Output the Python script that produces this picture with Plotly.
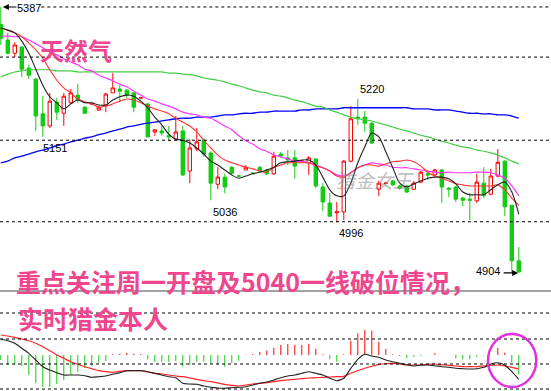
import plotly.graph_objects as go

# ---------------- data ----------------
idx = list(range(75))

opens = [5355, 5327, 5303, 5314, 5276, 5256, 5193, 5171, 5214, 5194,
         5213, 5227, 5205, 5211, 5200, 5209, 5231, 5238, 5236, 5231,
         5222, 5211, 5160, 5162, 5154, 5147, 5162, 5089, 5129, 5145,
         5122, 5065, 5078, 5096, 5080, 5091, 5085, 5096, 5091, 5084,
         5120, 5113, 5113, 5107, 5104, 5111, 5060, 5031, 5013, 5015,
         5107, 5187, 5187, 5176, 5056, 5067, 5071, 5062, 5062, 5056,
         5069, 5084, 5082, 5091, 5058, 5060, 5040, 5038, 5035, 5067,
         5047, 5080, 5107, 5027, 4926]
highs = [5387, 5340, 5323, 5316, 5282, 5258, 5225, 5231, 5222, 5231,
         5238, 5247, 5207, 5213, 5207, 5231, 5267, 5245, 5238, 5232,
         5224, 5213, 5164, 5171, 5171, 5189, 5171, 5147, 5167, 5149,
         5125, 5096, 5084, 5098, 5082, 5100, 5087, 5098, 5093, 5124,
         5124, 5127, 5127, 5109, 5116, 5113, 5067, 5049, 5033, 5109,
         5207, 5220, 5198, 5178, 5071, 5069, 5073, 5064, 5064, 5071,
         5089, 5091, 5093, 5093, 5060, 5062, 5042, 5049, 5084, 5096,
         5093, 5129, 5109, 5027, 4951]
lows = [5318, 5301, 5296, 5260, 5256, 5162, 5151, 5167, 5182, 5171,
        5211, 5213, 5193, 5209, 5198, 5196, 5231, 5214, 5222, 5196,
        5220, 5151, 5153, 5153, 5143, 5145, 5080, 5067, 5125, 5115,
        5036, 5056, 5049, 5084, 5078, 5091, 5083, 5087, 5082, 5082,
        5113, 5100, 5075, 5105, 5082, 5058, 5016, 5007, 4996, 5000,
        5105, 5173, 5160, 5138, 5044, 5065, 5062, 5055, 5049, 5055,
        5067, 5073, 5080, 5031, 5042, 5033, 5025, 5000, 5031, 5040,
        5045, 5078, 5007, 4906, 4904]
closes = [5330, 5303, 5318, 5274, 5263, 5189, 5171, 5216, 5196, 5225,
          5231, 5218, 5194, 5211, 5205, 5229, 5240, 5234, 5227, 5205,
          5222, 5151, 5164, 5158, 5151, 5160, 5082, 5131, 5142, 5120,
          5067, 5078, 5060, 5085, 5080, 5096, 5085, 5089, 5084, 5116,
          5116, 5109, 5098, 5107, 5113, 5062, 5033, 5007, 5015, 5107,
          5184, 5184, 5176, 5140, 5067, 5067, 5064, 5058, 5051, 5067,
          5087, 5082, 5091, 5060, 5056, 5038, 5036, 5036, 5069, 5045,
          5080, 5105, 5024, 4926, 4906]

ma5 = [5349, 5345, 5340, 5325, 5303, 5274, 5245, 5224, 5213, 5202,
       5211, 5218, 5213, 5213, 5209, 5209, 5218, 5224, 5227, 5225,
       5216, 5204, 5187, 5173, 5156, 5147, 5145, 5140, 5131, 5120,
       5107, 5100, 5091, 5082, 5076, 5080, 5084, 5087, 5091, 5096,
       5104, 5106, 5107, 5109, 5109, 5100, 5078, 5055, 5044, 5044,
       5067, 5104, 5133, 5158, 5151, 5124, 5095, 5067, 5060, 5066,
       5071, 5076, 5078, 5078, 5075, 5066, 5051, 5046, 5046, 5046,
       5055, 5064, 5069, 5051, 5011]
ma10 = [5349, 5345, 5340, 5333, 5322, 5309, 5294, 5273, 5254, 5240,
        5231, 5220, 5215, 5211, 5205, 5207, 5211, 5216, 5220, 5218,
        5213, 5207, 5202, 5198, 5193, 5185, 5178, 5171, 5160, 5145,
        5131, 5118, 5109, 5104, 5100, 5096, 5093, 5089, 5087, 5095,
        5100, 5104, 5104, 5104, 5104, 5098, 5095, 5089, 5080, 5078,
        5086, 5095, 5100, 5100, 5098, 5102, 5106, 5107, 5109, 5106,
        5098, 5087, 5080, 5076, 5071, 5066, 5064, 5062, 5062, 5062,
        5062, 5064, 5055, 5040, 5027]
ma20 = [5334, 5334, 5333, 5333, 5327, 5320, 5313, 5305, 5300, 5293,
        5287, 5282, 5274, 5271, 5263, 5258, 5253, 5247, 5242, 5234,
        5227, 5220, 5216, 5211, 5207, 5202, 5196, 5193, 5191, 5187,
        5185, 5178, 5171, 5164, 5153, 5144, 5138, 5129, 5125, 5118,
        5115, 5111, 5107, 5106, 5104, 5100, 5095, 5089, 5082, 5080,
        5086, 5095, 5100, 5104, 5102, 5100, 5096, 5095, 5095, 5093,
        5091, 5089, 5087, 5086, 5087, 5086, 5086, 5086, 5087, 5087,
        5086, 5082, 5076, 5062, 5044]
ma60 = [5260, 5265, 5269, 5271, 5273, 5273, 5273, 5273, 5271, 5271,
        5271, 5269, 5269, 5269, 5269, 5269, 5269, 5269, 5269, 5269,
        5269, 5269, 5269, 5269, 5267, 5267, 5265, 5264, 5262, 5258,
        5256, 5254, 5251, 5247, 5244, 5240, 5236, 5233, 5231, 5227,
        5225, 5222, 5218, 5215, 5211, 5207, 5205, 5200, 5196, 5191,
        5187, 5184, 5182, 5180, 5176, 5173, 5169, 5165, 5162, 5158,
        5154, 5151, 5147, 5143, 5140, 5136, 5133, 5131, 5127, 5125,
        5122, 5118, 5113, 5107, 5102]
ma120 = [5104, 5107, 5113, 5116, 5120, 5124, 5127, 5131, 5135, 5138,
         5142, 5145, 5149, 5151, 5155, 5158, 5162, 5165, 5169, 5171,
         5174, 5176, 5178, 5180, 5182, 5184, 5185, 5185, 5187, 5187,
         5187, 5189, 5191, 5191, 5193, 5194, 5194, 5196, 5196, 5198,
         5198, 5198, 5198, 5200, 5200, 5202, 5202, 5202, 5202, 5204,
         5204, 5204, 5204, 5204, 5204, 5204, 5204, 5204, 5204, 5202,
         5202, 5202, 5200, 5200, 5200, 5198, 5196, 5194, 5194, 5193,
         5193, 5191, 5191, 5189, 5185]

macd_hist = [-5, -10, -10, -11, -20, -28, -32, -32, -29, -25,
             -20, -17, -13, -11, -8, -6, 0.7, 1.3, 2, 1.3,
             1, -4.3, -6.7, -6.7, -6.7, -6, -11.7, -10, -6.7, -6.7,
             -8.3, -10, -11.7, -8.3, -5.7, 0.3, 1, 3, 4.3, 7.3,
             10, 11, 10, 10, 11, 6.3, 0.7, -4.3, -6.7, 0.7,
             14.3, 21.7, 25, 24.3, 13, 6, 0.7, -1, -3.3, -1.7,
             -1, 0, 1.7, 0, 0, -3.3, -4.3, -4.3, -1.7, -0.5,
             0, 7.3, 2.3, -7.7, -19.3]
dif = [15.7, 14.3, 11.7, 6.7, 1.7, -5.0, -11.7, -15.0, -17.7, -20.0,
       -20.0, -20.0, -20.7, -22.3, -21.7, -21.0, -19.3, -17.7, -15.7, -15.7,
       -15.7, -16.7, -18.3, -20.0, -21.7, -22.7, -28.3, -29.0, -29.3, -31.0,
       -32.3, -33.0, -33.3, -32.7, -32.3, -31.7, -30.0, -28.3, -27.0, -25.0,
       -22.7, -21.0, -20.0, -18.3, -16.7, -18.3, -20.0, -23.3, -25.7, -23.3,
       -13.3, -4.3, 0.7, -1.0, -2.3, -5.0, -6.7, -8.3, -9.7, -11.0,
       -10.3, -10.0, -10.7, -11.7, -12.3, -13.3, -13.7, -14.0, -13.7, -12.3,
       -9.0, -7.7, -10.0, -16.7, -24.3]
dea = [20.0, 19.0, 17.7, 16.0, 14.3, 11.7, 8.3, 4.3, 0.0, -3.3,
       -6.7, -9.3, -11.7, -13.7, -15.7, -16.7, -17.3, -16.3, -15.7, -15.7,
       -15.7, -17.0, -18.3, -19.0, -20.0, -21.0, -21.7, -23.0, -24.3, -25.7,
       -26.7, -28.0, -29.3, -30.3, -31.0, -30.0, -29.0, -28.3, -27.7, -26.7,
       -25.7, -25.0, -24.3, -23.7, -23.0, -22.7, -22.3, -22.0, -21.7, -21.3,
       -18.3, -15.7, -13.3, -11.3, -9.3, -8.7, -8.3, -9.0, -10.0, -10.0,
       -10.0, -9.3, -9.0, -9.7, -10.3, -11.0, -11.7, -11.7, -11.7, -11.0,
       -10.3, -10.0, -11.0, -12.3, -14.0]

price_labels = ["5387", "5151", "5036", "4996", "5220", "4904"]
price_label_x = [4.0, 7.8, 32.0, 50.0, 53.0, 69.6]
price_label_y = [5387, 5151, 5036, 4996, 5220, 4904]

# ---------------- figure ----------------
fig = go.Figure()

fig.add_trace(go.Candlestick(
    x=idx, open=opens, high=highs, low=lows, close=closes,
    increasing=dict(line=dict(color="#FF0000", width=1), fillcolor="#FFFFFF"),
    decreasing=dict(line=dict(color="#11CC11", width=1), fillcolor="#11CC11"),
    whiskerwidth=0, xaxis="x", yaxis="y", showlegend=False, hoverinfo="skip"))

for vals, col, w in [(ma120, "#0000FF", 1.3), (ma60, "#44CC44", 1.2),
                     (ma20, "#FF33FF", 1.2), (ma10, "#FF3333", 1.1),
                     (ma5, "#222222", 1.1)]:
    fig.add_trace(go.Scatter(x=idx, y=vals, mode="lines",
                             line=dict(color=col, width=w, shape="spline", smoothing=0.8),
                             xaxis="x", yaxis="y", showlegend=False, hoverinfo="skip"))

# MACD histogram as thin vertical strokes
for positive, col in [(True, "#FF0000"), (False, "#11CC11")]:
    hx, hy = [], []
    for i, v in zip(idx, macd_hist):
        if (v > 0) == positive and v != 0:
            hx += [i, i, None]
            hy += [0, v, None]
    fig.add_trace(go.Scatter(x=hx, y=hy, mode="lines", line=dict(color=col, width=1),
                             xaxis="x2", yaxis="y2", showlegend=False, hoverinfo="skip"))
fig.add_trace(go.Scatter(x=idx, y=dea, mode="lines",
                         line=dict(color="#FF2222", width=1.2, shape="spline", smoothing=0.6),
                         xaxis="x2", yaxis="y2", showlegend=False, hoverinfo="skip"))
fig.add_trace(go.Scatter(x=idx, y=dif, mode="lines",
                         line=dict(color="#222222", width=1.1, shape="spline", smoothing=0.6),
                         xaxis="x2", yaxis="y2", showlegend=False, hoverinfo="skip"))

split = 100 / 391.0
xr = [-0.114, 78.6]
fig.update_layout(
    width=551, height=391, margin=dict(l=0, r=0, t=0, b=0),
    paper_bgcolor="white", plot_bgcolor="white",
    xaxis=dict(domain=[0, 1], range=xr, visible=False, rangeslider=dict(visible=False), anchor="y"),
    yaxis=dict(domain=[split, 1], range=[4871.2, 5399.7], visible=False, anchor="x"),
    xaxis2=dict(domain=[0, 1], range=xr, visible=False, anchor="y2"),
    yaxis2=dict(domain=[0, split], range=[-36, 64], visible=False, anchor="x2"),
)

shapes = []
shapes.append(dict(type="line", xref="paper", yref="y", x0=0.075, x1=1, y0=5387, y1=5387,
                   line=dict(color="#000000", width=1, dash="dot")))
for g in [5296, 5145, 4997]:
    shapes.append(dict(type="line", xref="paper", yref="y", x0=0, x1=1, y0=g, y1=g,
                       line=dict(color="#000000", width=1, dash="dot")))
for g in [42, 16, -9, -34]:
    shapes.append(dict(type="line", xref="paper", yref="y2", x0=0, x1=1, y0=g, y1=g,
                       line=dict(color="#000000", width=1, dash="dot")))
shapes.append(dict(type="line", xref="paper", yref="paper", x0=0, x1=1, y0=split, y1=split,
                   line=dict(color="#444444", width=1.2)))
shapes.append(dict(type="circle", xref="x2", yref="y2", x0=69.6, x1=76.5, y0=-32, y1=21,
                   line=dict(color="#E030E0", width=2.5)))
fig.update_layout(shapes=shapes)

ann = []
shift = {"5387": -1, "5151": -11, "5036": -12, "4996": -11, "5220": 10, "4904": 2}
for txt, xi, yv in zip(price_labels, price_label_x, price_label_y):
    ann.append(dict(x=xi, y=yv, xref="x", yref="y", text=txt, showarrow=False,
                    xanchor="center", yanchor="middle", yshift=shift[txt],
                    font=dict(family="Liberation Sans, Arial", size=11, color="#000000")))
ann.append(dict(x=0.3, y=5387, xref="x", yref="y", ax=15, ay=0, text="", showarrow=True,
                arrowhead=2, arrowsize=1, arrowwidth=1.2, arrowcolor="#000000"))
ann.append(dict(x=73.9, y=4904, xref="x", yref="y", ax=-16, ay=0, text="", showarrow=True,
                arrowhead=2, arrowsize=1, arrowwidth=1.2, arrowcolor="#000000"))

pink = "#F0468E"
cjk = "Noto Sans CJK SC"
ann.append(dict(x=38 / 551, y=1 - 50 / 391, xref="paper", yref="paper", text="<b>天然气</b>",
                showarrow=False, xanchor="left", yanchor="middle",
                font=dict(family=cjk, size=24, color=pink)))
ann.append(dict(x=14 / 551, y=1 - 281 / 391, xref="paper", yref="paper",
                text="<b>重点关注周一开盘及5040一线破位情况，</b>",
                showarrow=False, xanchor="left", yanchor="middle",
                font=dict(family=cjk, size=25, color=pink)))
ann.append(dict(x=16 / 551, y=1 - 318 / 391, xref="paper", yref="paper", text="<b>实时猎金本人</b>",
                showarrow=False, xanchor="left", yanchor="middle",
                font=dict(family=cjk, size=25, color=pink)))
ann.append(dict(x=375 / 551, y=1 - 180 / 391, xref="paper", yref="paper", text="<i>猎金女王</i>",
                showarrow=False, xanchor="center", yanchor="middle", opacity=0.55,
                font=dict(family=cjk, size=19, color="#888888")))
fig.update_layout(annotations=ann)

fig.write_html("out.html", config={"displayModeBar": False})
# remove the default page margin so the chart sits at the window's top-left corner
with open("out.html", "r", encoding="utf-8") as f:
    html = f.read()
html = html.replace("<head>", "<head><style>html,body{margin:0;padding:0;}</style>", 1)
with open("out.html", "w", encoding="utf-8") as f:
    f.write(html)
